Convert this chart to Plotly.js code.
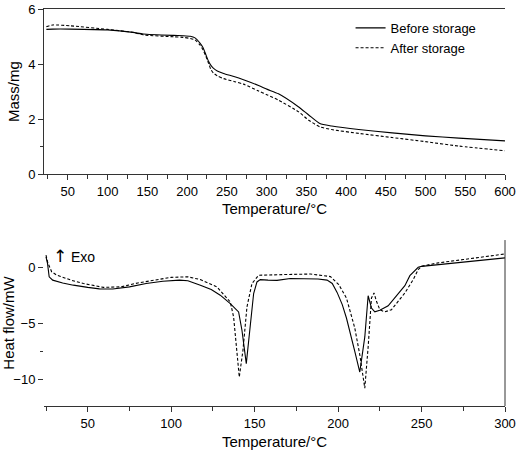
<!DOCTYPE html>
<html>
<head>
<meta charset="utf-8">
<script src="https://cdn.plot.ly/plotly-3.0.1.min.js"></script>
<style>html,body{margin:0;padding:0;background:#fff}#chart{width:517px;height:450px}</style>
</head>
<body>
<div id="chart"></div>
<script>
// TGA (top panel)
const tgaTemp = [23, 31, 53, 100, 132, 145, 183, 195, 204, 210, 216, 220, 223, 227, 230, 233, 238, 246, 260, 271, 290, 301, 315, 340, 353, 367, 382, 416, 458, 500, 542, 600];
const massBefore = [5.26, 5.27, 5.27, 5.24, 5.15, 5.09, 5.04, 5.03, 5.01, 4.95, 4.77, 4.60, 4.39, 4.10, 3.95, 3.85, 3.75, 3.66, 3.54, 3.43, 3.22, 3.08, 2.92, 2.45, 2.15, 1.84, 1.75, 1.62, 1.50, 1.39, 1.31, 1.21];
const massAfter  = [5.36, 5.42, 5.39, 5.26, 5.15, 5.06, 4.99, 4.97, 4.93, 4.88, 4.70, 4.52, 4.33, 4.03, 3.80, 3.68, 3.57, 3.47, 3.36, 3.27, 3.02, 2.88, 2.69, 2.27, 1.96, 1.72, 1.62, 1.48, 1.33, 1.18, 1.02, 0.85];

// DSC (bottom panel)
const dscTempBefore = [25, 25.9, 26.9, 29, 35, 41.4, 50, 57, 65, 75, 85, 95, 105, 110, 117.5, 124, 129.4, 135.4, 140.4, 142.4, 145, 147.4, 149.4, 151.4, 153.4, 158, 163.4, 171.4, 183.4, 188, 193.4, 196.5, 199.4, 202.5, 205, 207.5, 210, 213, 216, 218, 220, 222, 225, 230, 235, 240, 243, 245, 248, 250, 275, 300];
const heatBefore = [1.0, 0.4, -0.8, -1.1, -1.35, -1.55, -1.75, -1.88, -1.9, -1.7, -1.4, -1.2, -1.1, -1.15, -1.55, -1.95, -2.45, -3.2, -3.95, -5.6, -8.6, -5.0, -2.3, -1.26, -1.05, -1.1, -1.12, -0.95, -0.95, -1.0, -1.1, -1.4, -2.2, -3.3, -4.5, -5.9, -7.5, -9.35, -6.2, -2.5, -3.6, -3.95, -3.8, -3.4, -2.5, -1.6, -0.7, -0.4, 0.05, 0.14, 0.5, 0.9];
const dscTempAfter = [25, 26, 28.4, 31.4, 40, 47.4, 59.4, 70, 80, 90, 100, 110, 117.5, 127.4, 135.4, 137.4, 139.4, 140.8, 143, 145.4, 148.4, 152.4, 167.4, 183.4, 195.4, 200.4, 205, 210, 213, 216, 218, 220, 221.5, 223, 225, 228, 232, 236, 240, 245, 248, 250, 260, 275, 300];
const heatAfter = [1.15, 0.5, -0.35, -0.65, -1.1, -1.4, -1.75, -1.7, -1.35, -1.1, -0.85, -0.8, -1.05, -1.7, -3.05, -4.4, -8.0, -9.8, -7.4, -3.5, -1.4, -0.66, -0.6, -0.55, -0.78, -1.5, -2.7, -5.4, -7.8, -10.8, -7.1, -2.7, -2.25, -3.0, -3.75, -3.95, -3.75, -3.0, -2.25, -1.05, -0.15, 0.15, 0.45, 0.75, 1.25];

const seriesNames = ["Before storage", "After storage"];

const font = "Liberation Sans, Arial, sans-serif";
const solid = {color: "#000", width: 1.1};
const dashed = {color: "#000", width: 1.1, dash: "3px,2px"};

const traces = [
  {x: tgaTemp, y: massBefore, name: seriesNames[0], mode: "lines", line: Object.assign({shape: "spline", smoothing: 0.6}, solid), xaxis: "x", yaxis: "y"},
  {x: tgaTemp, y: massAfter, name: seriesNames[1], mode: "lines", line: Object.assign({shape: "spline", smoothing: 0.6}, dashed), xaxis: "x", yaxis: "y"},
  {x: dscTempBefore, y: heatBefore, name: seriesNames[0], mode: "lines", line: solid, xaxis: "x2", yaxis: "y2", showlegend: false},
  {x: dscTempAfter, y: heatAfter, name: seriesNames[1], mode: "lines", line: dashed, xaxis: "x2", yaxis: "y2", showlegend: false}
];

const axisCommon = {
  showgrid: false, zeroline: false, showline: true, linecolor: "#333", linewidth: 1,
  ticks: "outside", ticklen: 5, tickcolor: "#333", tickwidth: 1,
  tickfont: {family: font, size: 13, color: "#000"}
};

const layout = {
  width: 517, height: 450,
  margin: {l: 44, r: 12, t: 9, b: 44},
  paper_bgcolor: "#fff", plot_bgcolor: "#fff",
  font: {family: font, color: "#000"},
  showlegend: true,
  legend: {x: 0.665, y: 0.99, xanchor: "left", yanchor: "top", bgcolor: "rgba(0,0,0,0)",
           font: {family: font, size: 13, color: "#000"}, tracegroupgap: 0},
  xaxis: Object.assign({}, axisCommon, {
    domain: [0, 1], anchor: "y", range: [20, 600], dtick: 50, tick0: 0, mirror: true,
    minor: {dtick: 25, ticklen: 4, ticks: "outside", tickcolor: "#333"},
    title: {text: "Temperature/°C", font: {family: font, size: 15}, standoff: 5}
  }),
  yaxis: Object.assign({}, axisCommon, {
    domain: [0.584, 1], anchor: "x", range: [0, 6], tickvals: [0, 2, 4, 6],
    minor: {tickvals: [1], ticklen: 3, ticks: "outside", tickcolor: "#333"},
    title: {text: "Mass/mg", font: {family: font, size: 15}, standoff: 4}
  }),
  xaxis2: Object.assign({}, axisCommon, {
    domain: [0, 1], anchor: "y2", range: [23.8, 300], dtick: 50, tick0: 0,
    minor: {dtick: 25, ticklen: 4, ticks: "outside", tickcolor: "#333"},
    title: {text: "Temperature/°C", font: {family: font, size: 15}, standoff: 6}
  }),
  yaxis2: Object.assign({}, axisCommon, {
    domain: [0, 0.418], anchor: "x2", range: [-12.4, 2.5], tickvals: [-10, -5, 0],
    ticktext: ["\u221210", "\u22125", "0"], showline: false,
    minor: {tickvals: [-7.5], ticklen: 3, ticks: "outside", tickcolor: "#333"},
    title: {text: "Heat flow/mW", font: {family: font, size: 15}, standoff: 3}
  }),
  shapes: [
    {type: "line", xref: "x2 domain", yref: "y2 domain", x0: 1, x1: 1, y0: 0, y1: 1, line: {color: "#333", width: 1}}
  ],
  annotations: [
    {xref: "x2", yref: "y2", x: 33.3, y: 1.1, xanchor: "center", yanchor: "middle", showarrow: false,
     text: "\u2191", font: {family: "DejaVu Sans, sans-serif", size: 17, color: "#000"}},
    {xref: "x2", yref: "y2", x: 39.0, y: 0.95, xanchor: "left", yanchor: "middle", showarrow: false,
     text: "Exo", font: {family: font, size: 14, color: "#000"}}
  ]
};

Plotly.newPlot("chart", traces, layout, {displayModeBar: false, staticPlot: true});
</script>
</body>
</html>
